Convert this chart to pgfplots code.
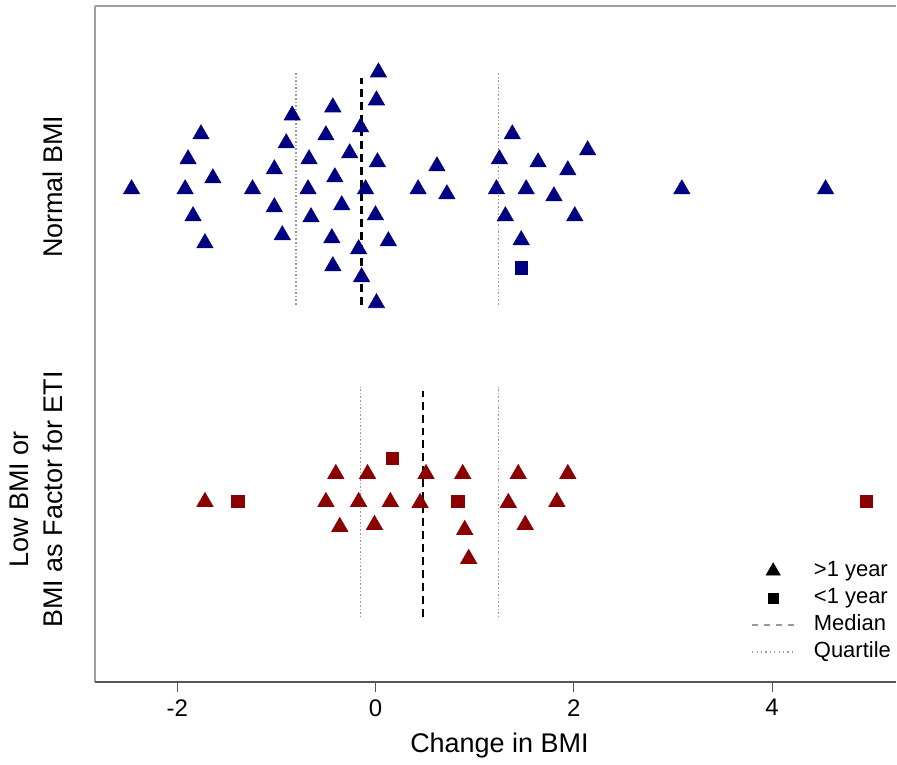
\documentclass[border=0pt]{standalone}
\usepackage{fontspec}
\setmainfont{Liberation Sans}
\usepackage{pgfplots}
\pgfplotsset{compat=1.18}
\definecolor{navy}{HTML}{000080}
\definecolor{dred}{HTML}{8B0000}
\definecolor{boxgray}{HTML}{A0A0A0}
\definecolor{axgray}{HTML}{555555}
\definecolor{qgray}{HTML}{9A9A9A}

\begin{document}
\begin{tikzpicture}
\begin{axis}[
  scale only axis,
  width=401pt, height=338.5pt,
  xmin=-2.83, xmax=5.25, ymin=0, ymax=6.77,
  axis x line=box, axis y line=left,
  x axis line style={-, draw=boxgray, line width=1pt},
  y axis line style={-, draw=boxgray, line width=1pt},
  xtick={-2,0,2,4}, xticklabels={-2,0,2,4},
  xtick pos=bottom, tick align=outside, major tick length=5pt,
  xtick style={axgray, line width=0.5pt},
  xticklabel style={font=\fontsize{12}{14}\selectfont},
  ytick={1.83,4.96},
  yticklabels={{Low BMI or\\BMI as Factor for ETI},{Normal BMI}},
  ytick style={draw=none},
  yticklabel style={rotate=90, anchor=south, align=center, inner sep=0pt,
    font=\fontsize{13.5}{17}\selectfont},
  yticklabel shift=11pt,
  xlabel={Change in BMI},
  xlabel style={font=\fontsize{13.5}{16}\selectfont, at={(axis description cs:0.505,-0.1034)}, anchor=base},
  legend image code/.code={\draw[mark repeat=2,mark phase=2,#1] plot coordinates {(0pt,0pt) (10.5pt,0pt) (21pt,0pt)};},
  legend cell align=left,
  legend style={at={(0.819,0.182)}, anchor=north west, draw=none, fill=none,
    inner sep=0pt, column sep=9pt, row sep=2pt,
    font=\fontsize{11}{13}\selectfont,
    nodes={inner sep=0.5pt, text height=8pt, text depth=2.5pt}},
]
% quartiles and medians
\addplot[forget plot, qgray, line width=0.8pt, dash pattern=on 0.8pt off 1pt] coordinates {(-0.80,3.78) (-0.80,6.10)};
\addplot[forget plot, qgray, line width=0.8pt, dash pattern=on 0.8pt off 1pt] coordinates {(1.24,3.78) (1.24,6.10)};
\addplot[forget plot, black, line width=1.3pt, dash pattern=on 4pt off 2.5pt] coordinates {(-0.14,3.78) (-0.14,6.05)};
\addplot[forget plot, qgray, line width=0.8pt, dash pattern=on 0.8pt off 1pt] coordinates {(-0.15,0.65) (-0.15,2.96)};
\addplot[forget plot, qgray, line width=0.8pt, dash pattern=on 0.8pt off 1pt] coordinates {(1.24,0.65) (1.24,2.96)};
\addplot[forget plot, black, line width=1.3pt, dash pattern=on 4pt off 2.5pt] coordinates {(0.48,0.65) (0.48,2.92)};
% Normal BMI, >1 year
\addplot[forget plot, only marks, mark=triangle*, mark size=4.7pt, draw=navy, fill=navy, mark options={line width=0.3pt, yshift=-1.2pt}] coordinates {
(-2.46,4.96) (-1.76,5.51) (-1.89,5.26) (-1.64,5.07) (-1.92,4.96) (-1.84,4.69) (-1.72,4.42)
(-1.24,4.96) (-0.84,5.70) (-0.90,5.42) (-1.02,5.16) (-1.02,4.78) (-0.94,4.50)
(-0.67,5.26) (-0.68,4.96) (-0.65,4.68) (-0.43,5.78) (-0.50,5.50) (-0.41,5.08) (-0.34,4.80)
(-0.44,4.47) (-0.43,4.19) (-0.26,5.32) (-0.15,5.58) (-0.10,4.96) (-0.17,4.36) (-0.14,4.08)
(0.03,6.13) (0.01,5.85) (0.02,5.23) (0.00,4.70) (0.13,4.44) (0.01,3.82)
(0.43,4.96) (0.62,5.19) (0.72,4.91)
(1.38,5.51) (1.25,5.26) (1.22,4.96) (1.52,4.96) (1.31,4.69) (1.47,4.45)
(1.64,5.23) (2.14,5.35) (1.94,5.15) (1.80,4.89) (2.01,4.69)
(3.09,4.96) (4.54,4.96)
};
% Normal BMI, <1 year
\addplot[forget plot, only marks, mark=square*, mark size=3.1pt, draw=navy, fill=navy, mark options={line width=0.3pt}] coordinates {
(1.47,4.15)
};
% Low BMI, >1 year
\addplot[forget plot, only marks, mark=triangle*, mark size=4.7pt, draw=dred, fill=dred, mark options={line width=0.3pt, yshift=-1.2pt}] coordinates {
(-1.72,1.83) (-0.40,2.11) (-0.50,1.83) (-0.36,1.58) (-0.08,2.11) (-0.17,1.83) (-0.01,1.60)
(0.15,1.83) (0.51,2.11) (0.45,1.82) (0.88,2.11) (0.90,1.55) (0.94,1.26)
(1.44,2.11) (1.34,1.82) (1.51,1.60) (1.94,2.11) (1.83,1.83)
};
% Low BMI, <1 year
\addplot[forget plot, only marks, mark=square*, mark size=3.1pt, draw=dred, fill=dred, mark options={line width=0.3pt}] coordinates {
(-1.39,1.81) (0.17,2.24) (0.83,1.81) (4.95,1.81)
};
\draw[axgray, line width=1pt] (rel axis cs:0,0) -- (rel axis cs:1,0);
\addlegendimage{only marks, mark=triangle*, mark size=4pt, black}
\addlegendentry{>1 year}
\addlegendimage{only marks, mark=square*, mark size=2.5pt, black}
\addlegendentry{<1 year}
\addlegendimage{qgray, line width=0.8pt, dash pattern=on 3pt off 3pt}
\addlegendentry{Median}
\addlegendimage{qgray, line width=0.6pt, dash pattern=on 0.6pt off 1.6pt}
\addlegendentry{Quartile}
\end{axis}
\path (current axis.south west) ++(-47.5pt,-37.5pt);
\path (current axis.north east) ++(0pt,3pt);
\end{tikzpicture}
\end{document}
